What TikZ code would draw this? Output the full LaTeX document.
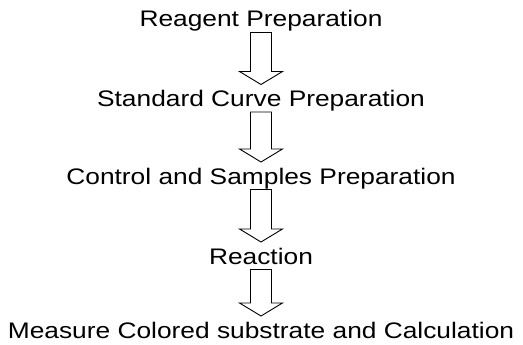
\documentclass[tikz,border=0pt]{standalone}
\usepackage{fontspec}
\setmainfont{Liberation Sans}
\usetikzlibrary{calc}

\tikzset{
    stepnode/.style={font=\fontsize{22.5}{26}\selectfont, inner sep=0pt, anchor=base, xscale=1.17, transform shape},
    flowarrow/.style={draw=black, line width=0.9pt, fill=white, line join=miter}
}

% hollow arrow from the base of #1 down to the text of #2
\newcommand{\flowarrow}[2]{%
    \draw[flowarrow] ($(#1.base)+(-10.5,5.5)$) -- ($(#2.base)+(-10.5,-35)$) -- ($(#2.base)+(-21.5,-35)$)
        -- ($(#2.base)+(0,-22)$) -- ($(#2.base)+(21.5,-35)$) -- ($(#2.base)+(10.5,-35)$)
        -- ($(#1.base)+(10.5,5.5)$) -- cycle;}

\begin{document}
\begin{tikzpicture}[x=1pt, y=-1pt]
    \useasboundingbox (0, 0) rectangle (523, 345);
    \node[stepnode] (reagent) at (261, 27) {Reagent Preparation};
    \node[stepnode] (curve) at (261, 106.5) {Standard Curve Preparation};
    \node[stepnode] (samples) at (261, 184) {Control and Samples Preparation};
    \node[stepnode] (reaction) at (261, 264) {Reaction};
    \node[stepnode] (measure) at (261, 338) {Measure Colored substrate and Calculation};
    \flowarrow{reagent}{curve}
    \flowarrow{curve}{samples}
    \flowarrow{samples}{reaction}
    \flowarrow{reaction}{measure}
\end{tikzpicture}
\end{document}
